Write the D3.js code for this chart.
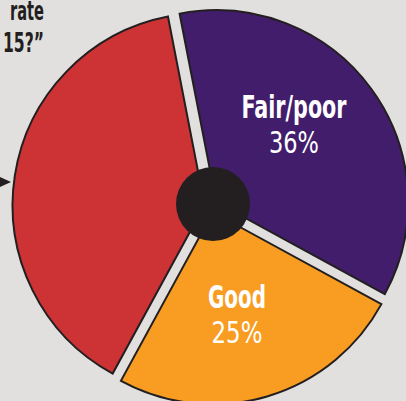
<!DOCTYPE html>
<html lang="en">
<head>
  <meta charset="UTF-8">
  <title>Health rating pie</title>
  <script src="https://d3js.org/d3.v7.min.js"></script>
  <style>
    body { margin: 0; background: #e1e0de; }
    svg { display: block; }
    .slice { stroke: #231f20; stroke-width: 2px; }
    text { font-family: "Liberation Sans Narrow", "DejaVu Sans Condensed", "Roboto Condensed", sans-serif; }
    .lbl { font-weight: bold; fill: #fff; }
    .pct { fill: #fff; }
    .q { font-weight: bold; fill: #231f20; }
  </style>
</head>
<body>
  <script>
    const width = 406;
    const height = 401;

    // answers, clockwise from the top
    const categories = ["Fair/poor", "Good", "Excellent/very good"];
    const shares = [36, 25, 39];
    const colors = ["#421d6c", "#f89c22", "#cd3335"];
    const showLabel = [true, true, false];
    const questionLines = ["rate", "15?\u201d"];

    const cx = 211, cy = 206, radius = 192, explode = 6.5, hole = 37;

    const svg = d3.select("body").append("svg")
      .attr("width", width)
      .attr("height", height);

    const pie = d3.pie()
      .sort(null)
      .startAngle(-11 * Math.PI / 180)
      .endAngle((360 - 11) * Math.PI / 180);

    const arcs = pie(shares);
    const arc = d3.arc().innerRadius(0).outerRadius(radius);

    const g = svg.append("g").attr("transform", `translate(${cx},${cy})`);

    const mid = d => (d.startAngle + d.endAngle) / 2;

    g.selectAll(".slice")
      .data(arcs)
      .enter().append("path")
      .attr("class", "slice")
      .attr("fill", (d, i) => colors[i])
      .attr("transform", d => `translate(${explode * Math.sin(mid(d))},${-explode * Math.cos(mid(d))})`)
      .attr("d", arc);

    // dark hub in the middle
    g.append("circle")
      .attr("cx", 2)
      .attr("cy", -2)
      .attr("r", hole)
      .attr("fill", "#231f20");

    // slice labels (squeezed to the narrow face of the original)
    const labelPos = [[83, -88], [26, 102]];
    const labelWidth = [105, 58];
    const pctWidth = [50, 51];
    arcs.forEach((d, i) => {
      if (!showLabel[i]) return;
      const [x, y] = labelPos[i];
      g.append("text")
        .attr("class", "lbl")
        .attr("x", x).attr("y", y)
        .attr("text-anchor", "middle")
        .attr("font-size", 32)
        .attr("textLength", labelWidth[i])
        .attr("lengthAdjust", "spacingAndGlyphs")
        .text(categories[i]);
      g.append("text")
        .attr("class", "pct")
        .attr("x", x).attr("y", y + 35)
        .attr("text-anchor", "middle")
        .attr("font-size", 30)
        .attr("textLength", pctWidth[i])
        .attr("lengthAdjust", "spacingAndGlyphs")
        .text(shares[i] + "%");
    });

    // question text (tail end of the headline)
    const qWidth = [34, 41];
    svg.selectAll(".q")
      .data(questionLines)
      .enter().append("text")
      .attr("class", "q")
      .attr("x", (d, i) => 44 - qWidth[i])
      .attr("y", (d, i) => 20 + i * 32)
      .attr("font-size", 26)
      .attr("textLength", (d, i) => qWidth[i])
      .attr("lengthAdjust", "spacingAndGlyphs")
      .text(d => d);

    // pointer arrow
    svg.append("path")
      .attr("d", "M0,177L11,182L0,187Z")
      .attr("fill", "#231f20");
  </script>
</body>
</html>
